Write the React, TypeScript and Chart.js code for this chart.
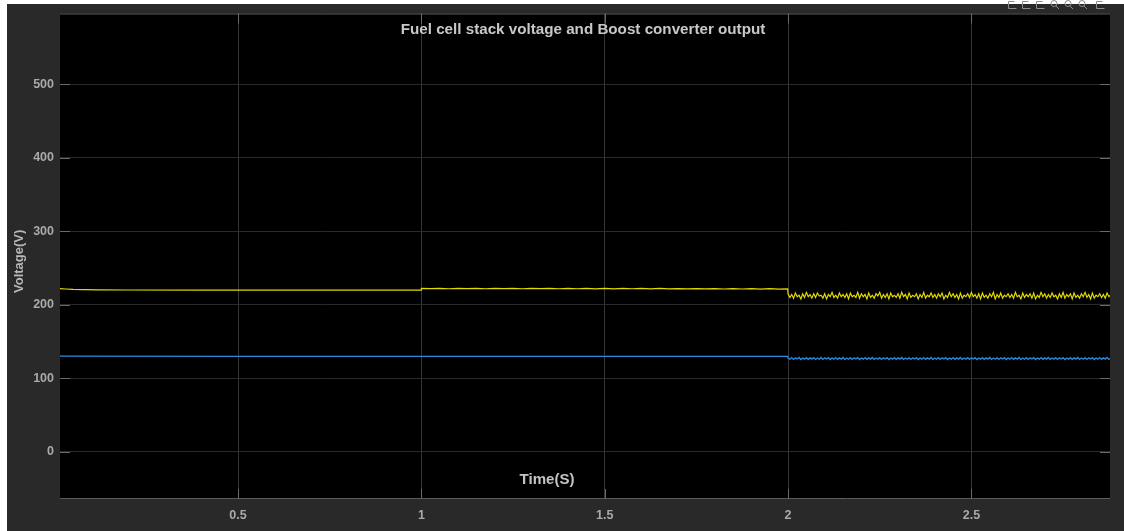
import React, { useEffect, useRef } from "react";
import { Chart, registerables } from "chart.js";

Chart.register(...registerables);

// ---------- data ----------
const xTickValues = [0.5, 1, 1.5, 2, 2.5];
const yTickValues = [0, 100, 200, 300, 400, 500];
const xRange = [0.0145, 2.878];
const yRange = [-64, 596];

const earlyTime = [0.0145, 0.03, 0.05, 0.08, 0.12, 0.2, 0.4, 0.6, 0.8, 0.999];
const earlyYellow = [222, 221.5, 221, 220.6, 220.3, 220.1, 220, 220, 220, 220];

const midTime = [
  1.0, 1.025, 1.05, 1.075, 1.1, 1.125, 1.15, 1.175, 1.2, 1.225,
  1.25, 1.275, 1.3, 1.325, 1.35, 1.375, 1.4, 1.425, 1.45, 1.475,
  1.5, 1.525, 1.55, 1.575, 1.6, 1.625, 1.65, 1.675, 1.7, 1.725,
  1.75, 1.775, 1.8, 1.825, 1.85, 1.875, 1.9, 1.925, 1.95, 1.975,
  1.999,
];
const midYellow = [
  222.4, 221.9, 222.3, 221.8, 222.4, 221.9, 222.3, 221.8, 222.4, 221.9,
  222.3, 221.8, 222.4, 221.9, 222.3, 221.8, 222.3, 221.8, 222.2, 221.7,
  222.2, 221.7, 222.3, 221.8, 222.2, 221.7, 222.2, 221.7, 222.1, 221.6,
  222.1, 221.6, 222.0, 221.5, 222.0, 221.5, 221.9, 221.4, 221.9, 221.4,
  221.6,
];

const blueFlatTime = [0.0145, 0.5, 1.0, 1.5, 1.999];
const blueFlat = [130.3, 130, 130, 130, 130];

const rippleTime = [
  2.0, 2.005, 2.01, 2.015, 2.02, 2.025, 2.03, 2.035, 2.04, 2.045,
  2.05, 2.055, 2.06, 2.065, 2.07, 2.075, 2.08, 2.085, 2.09, 2.095,
  2.1, 2.105, 2.11, 2.115, 2.12, 2.125, 2.13, 2.135, 2.14, 2.145,
  2.15, 2.155, 2.16, 2.165, 2.17, 2.175, 2.18, 2.185, 2.19, 2.195,
  2.2, 2.205, 2.21, 2.215, 2.22, 2.225, 2.23, 2.235, 2.24, 2.245,
  2.25, 2.255, 2.26, 2.265, 2.27, 2.275, 2.28, 2.285, 2.29, 2.295,
  2.3, 2.305, 2.31, 2.315, 2.32, 2.325, 2.33, 2.335, 2.34, 2.345,
  2.35, 2.355, 2.36, 2.365, 2.37, 2.375, 2.38, 2.385, 2.39, 2.395,
  2.4, 2.405, 2.41, 2.415, 2.42, 2.425, 2.43, 2.435, 2.44, 2.445,
  2.45, 2.455, 2.46, 2.465, 2.47, 2.475, 2.48, 2.485, 2.49, 2.495,
  2.5, 2.505, 2.51, 2.515, 2.52, 2.525, 2.53, 2.535, 2.54, 2.545,
  2.55, 2.555, 2.56, 2.565, 2.57, 2.575, 2.58, 2.585, 2.59, 2.595,
  2.6, 2.605, 2.61, 2.615, 2.62, 2.625, 2.63, 2.635, 2.64, 2.645,
  2.65, 2.655, 2.66, 2.665, 2.67, 2.675, 2.68, 2.685, 2.69, 2.695,
  2.7, 2.705, 2.71, 2.715, 2.72, 2.725, 2.73, 2.735, 2.74, 2.745,
  2.75, 2.755, 2.76, 2.765, 2.77, 2.775, 2.78, 2.785, 2.79, 2.795,
  2.8, 2.805, 2.81, 2.815, 2.82, 2.825, 2.83, 2.835, 2.84, 2.845,
  2.85, 2.855, 2.86, 2.865, 2.87, 2.875, 2.878,
];
const rippleYellow = [
  215, 210, 214, 209, 216, 211, 213, 208, 215, 210,
  217, 211, 214, 209, 215, 210, 216, 212, 213, 209,
  215, 208, 214, 211, 217, 210, 213, 209, 216, 211,
  214, 210, 215, 208, 216, 211, 213, 210, 217, 209,
  215, 211, 214, 208, 216, 210, 213, 209, 215, 212,
  217, 209, 214, 210, 215, 208, 216, 211, 213, 210,
  215, 209, 217, 211, 214, 208, 216, 210, 213, 211,
  215, 208, 214, 210, 217, 209, 213, 211, 216, 210,
  214, 209, 215, 211, 216, 208, 213, 210, 217, 211,
  215, 210, 214, 208, 216, 209, 213, 211, 215, 210,
  217, 211, 214, 209, 215, 208, 216, 210, 213, 209,
  215, 211, 217, 208, 214, 210, 216, 209, 213, 211,
  215, 210, 214, 209, 217, 211, 213, 208, 216, 210,
  214, 211, 215, 209, 216, 208, 213, 210, 217, 211,
  215, 209, 214, 210, 216, 211, 213, 208, 215, 210,
  217, 209, 214, 211, 215, 208, 216, 210, 213, 209,
  215, 211, 217, 210, 214, 208, 216, 209, 213, 211,
  215, 210, 214, 209, 216, 211, 213,
];
const rippleBlue = [
  127.6, 126.0, 128.2, 125.8, 127.9, 126.3, 128.4, 125.6, 127.7, 126.1,
  128.1, 125.9, 127.8, 126.2, 128.3, 125.7, 127.6, 126.0, 128.4, 125.8,
  127.9, 126.3, 128.2, 125.6, 127.7, 126.1, 128.3, 125.9, 127.8, 126.2,
  128.4, 125.7, 127.6, 126.0, 128.1, 125.8, 127.9, 126.3, 128.2, 125.6,
  127.7, 126.1, 128.3, 125.9, 127.8, 126.2, 128.4, 125.7, 127.6, 126.0,
  128.1, 125.8, 127.9, 126.3, 128.2, 125.6, 127.7, 126.1, 128.3, 125.9,
  127.8, 126.2, 128.4, 125.7, 127.6, 126.0, 128.1, 125.8, 127.9, 126.3,
  128.2, 125.6, 127.7, 126.1, 128.3, 125.9, 127.8, 126.2, 128.4, 125.7,
  127.6, 126.0, 128.1, 125.8, 127.9, 126.3, 128.2, 125.6, 127.7, 126.1,
  128.3, 125.9, 127.8, 126.2, 128.4, 125.7, 127.6, 126.0, 128.1, 125.8,
  127.9, 126.3, 128.2, 125.6, 127.7, 126.1, 128.3, 125.9, 127.8, 126.2,
  128.4, 125.7, 127.6, 126.0, 128.1, 125.8, 127.9, 126.3, 128.2, 125.6,
  127.7, 126.1, 128.3, 125.9, 127.8, 126.2, 128.4, 125.7, 127.6, 126.0,
  128.1, 125.8, 127.9, 126.3, 128.2, 125.6, 127.7, 126.1, 128.3, 125.9,
  127.8, 126.2, 128.4, 125.7, 127.6, 126.0, 128.1, 125.8, 127.9, 126.3,
  128.2, 125.6, 127.7, 126.1, 128.3, 125.9, 127.8, 126.2, 128.4, 125.7,
  127.6, 126.0, 128.1, 125.8, 127.9, 126.3, 128.2, 125.6, 127.7, 126.1,
  128.3, 125.9, 127.8, 126.2, 128.4, 125.7, 127.0,
];

const titleText = "Fuel cell stack voltage and Boost converter output";
const xLabelText = "Time(S)";
const yLabelText = "Voltage(V)";

// ---------- helpers ----------
const pts = (ts: number[], vs: number[]) =>
  ts.map((t, i) => ({ x: t, y: vs[i] }));

const FONT = "'Liberation Sans', Arial, sans-serif";

const framePlugin = {
  id: "matlabFrame",
  beforeDraw(chart: any) {
    const { ctx, chartArea: a, width, height } = chart;
    ctx.save();
    ctx.fillStyle = "#ffffff";
    ctx.fillRect(0, 0, width, height);
    ctx.fillStyle = "#292929";
    ctx.fillRect(7, 4, width - 7, height - 4);
    ctx.fillStyle = "#000000";
    ctx.fillRect(a.left, a.top, a.right - a.left, a.bottom - a.top);
    ctx.restore();
  },
  afterDraw(chart: any) {
    const { ctx, chartArea: a, scales } = chart;
    ctx.save();
    // top / bottom frame lines
    ctx.strokeStyle = "#5a5a5a";
    ctx.lineWidth = 1;
    ctx.beginPath();
    ctx.moveTo(a.left, a.top + 0.5);
    ctx.lineTo(a.right, a.top + 0.5);
    ctx.moveTo(a.left, a.bottom - 0.5);
    ctx.lineTo(a.right, a.bottom - 0.5);
    ctx.stroke();
    // inner tick marks
    ctx.strokeStyle = "#6a6a6a";
    ctx.beginPath();
    yTickValues.forEach((v) => {
      const y = Math.round(scales.y.getPixelForValue(v)) + 0.5;
      ctx.moveTo(a.left, y);
      ctx.lineTo(a.left + 10, y);
      ctx.moveTo(a.right - 10, y);
      ctx.lineTo(a.right, y);
    });
    xTickValues.forEach((v) => {
      const x = Math.round(scales.x.getPixelForValue(v)) + 0.5;
      ctx.moveTo(x, a.top);
      ctx.lineTo(x, a.top + 10);
      ctx.moveTo(x, a.bottom - 10);
      ctx.lineTo(x, a.bottom);
    });
    ctx.stroke();

    // title
    ctx.fillStyle = "#c8c8c8";
    ctx.textAlign = "center";
    ctx.textBaseline = "middle";
    ctx.font = `bold 20px ${FONT}`;
    const tw = ctx.measureText(titleText).width;
    ctx.font = `bold ${(20 * 365) / tw}px ${FONT}`;
    ctx.fillText(titleText, (a.left + a.right) / 2 - 2, 30);

    // x label (inside plot)
    ctx.font = `bold 20px ${FONT}`;
    const xw = ctx.measureText(xLabelText).width;
    ctx.font = `bold ${(20 * 55) / xw}px ${FONT}`;
    ctx.fillStyle = "#c4c4c4";
    ctx.fillText(xLabelText, 547, 480);

    // y label
    ctx.save();
    ctx.translate(19, 293);
    ctx.rotate(-Math.PI / 2);
    ctx.textAlign = "left";
    ctx.font = `bold 13px ${FONT}`;
    ctx.fillStyle = "#b8b8b8";
    ctx.fillText(yLabelText, 0, 0);
    ctx.restore();

    // little toolbar glyphs at the top right
    ctx.strokeStyle = "#8c8c8c";
    ctx.lineWidth = 1;
    const gx = [1008, 1022, 1036, 1050, 1064, 1078, 1096];
    gx.forEach((x, i) => {
      ctx.beginPath();
      if (i === 3 || i === 4 || i === 5) {
        ctx.arc(x + 4, 3.5, 3, 0, Math.PI * 2);
        ctx.moveTo(x + 6, 6);
        ctx.lineTo(x + 9, 9);
      } else {
        ctx.moveTo(x + 0.5, 8.5);
        ctx.lineTo(x + 8.5, 8.5);
        ctx.moveTo(x + 0.5, 8.5);
        ctx.lineTo(x + 0.5, 1.5);
        ctx.lineTo(x + 6.5, 1.5);
      }
      ctx.stroke();
    });
    ctx.restore();
  },
};

export default function App() {
  const ref = useRef<HTMLCanvasElement | null>(null);

  useEffect(() => {
    document.body.style.margin = "0";
    const canvas = ref.current!;
    const yellowData = [
      ...pts(earlyTime, earlyYellow),
      ...pts(midTime, midYellow),
      ...pts(rippleTime, rippleYellow),
    ];
    const blueData = [
      ...pts(blueFlatTime, blueFlat),
      ...pts(rippleTime, rippleBlue),
    ];
    const tickFont = { family: FONT, size: 12.5, weight: "bold" as const };
    const chart = new Chart(canvas, {
      type: "line",
      data: {
        datasets: [
          {
            label: "Boost converter output",
            data: yellowData,
            borderColor: "#e2da00",
            borderWidth: 1.2,
            pointRadius: 0,
            tension: 0,
          },
          {
            label: "Fuel cell stack voltage",
            data: blueData,
            borderColor: "#2a8ee0",
            borderWidth: 1.3,
            pointRadius: 0,
            tension: 0,
          },
        ],
      },
      options: {
        animation: false,
        responsive: false,
        devicePixelRatio: 1,
        layout: { padding: { left: 0, top: 12, right: 14, bottom: 0 } },
        plugins: {
          legend: { display: false },
          title: { display: false },
          tooltip: { enabled: false },
        },
        scales: {
          x: {
            type: "linear",
            min: xRange[0],
            max: xRange[1],
            afterFit: (s: any) => {
              s.height = 32;
            },
            afterBuildTicks: (s: any) => {
              s.ticks = xTickValues.map((v) => ({ value: v }));
            },
            grid: { color: "#363636", drawTicks: false },
            border: { display: false },
            ticks: {
              color: "#aaaaaa",
              font: tickFont,
              padding: 9,
              maxRotation: 0,
              callback: (v: any) => String(v),
            },
          },
          y: {
            type: "linear",
            min: yRange[0],
            max: yRange[1],
            afterFit: (s: any) => {
              s.width = 60;
            },
            afterBuildTicks: (s: any) => {
              s.ticks = yTickValues.map((v) => ({ value: v }));
            },
            grid: { color: "#2a2a2a", drawTicks: false },
            border: { display: false },
            ticks: {
              color: "#aaaaaa",
              font: tickFont,
              padding: 6,
              callback: (v: any) => String(v),
            },
          },
        },
      },
      plugins: [framePlugin],
    });
    return () => chart.destroy();
  }, []);

  return (
    <canvas
      ref={ref}
      width={1124}
      height={531}
      style={{ display: "block", width: 1124, height: 531 }}
    />
  );
}
